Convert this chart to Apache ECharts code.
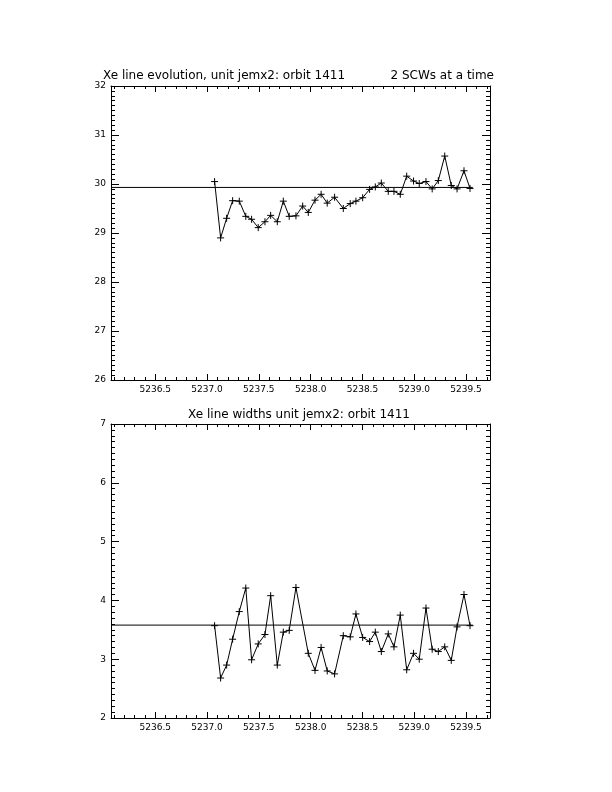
<!DOCTYPE html>
<html>
<head>
<meta charset="utf-8">
<script src="https://cdn.jsdelivr.net/npm/echarts@6/dist/echarts.min.js"></script>
<style>
html,body{margin:0;padding:0;background:#fff;}
#chart{width:612px;height:792px;}
</style>
</head>
<body>
<div id="chart"></div>
<script>
// ---- data ----
const times = [5237.073, 5237.131, 5237.189, 5237.247, 5237.311, 5237.374, 5237.430, 5237.494, 5237.559, 5237.614,
  5237.678, 5237.736, 5237.793, 5237.858, 5237.923, 5237.977, 5238.042, 5238.101, 5238.160, 5238.231,
  5238.315, 5238.382, 5238.437, 5238.502, 5238.569, 5238.624, 5238.682, 5238.749, 5238.804, 5238.865,
  5238.927, 5238.993, 5239.048, 5239.113, 5239.173, 5239.232, 5239.294, 5239.357, 5239.413, 5239.480, 5239.538];
const evolution = [30.05, 28.90, 29.30, 29.66, 29.65, 29.34, 29.28, 29.11, 29.23, 29.36,
  29.23, 29.65, 29.34, 29.35, 29.55, 29.42, 29.67, 29.79, 29.61, 29.73,
  29.50, 29.60, 29.65, 29.72, 29.89, 29.94, 30.02, 29.85, 29.85, 29.79,
  30.16, 30.06, 30.01, 30.05, 29.90, 30.07, 30.57, 29.97, 29.90, 30.27, 29.91];
// null: no width point in that bin
const widths = [3.57, 2.68, 2.90, 3.34, 3.81, 4.21, 2.99, 3.26, 3.42, 4.08,
  2.90, 3.46, 3.49, 4.22, null, 3.10, 2.81, 3.20, 2.80, 2.75,
  3.40, 3.38, 3.77, 3.37, 3.30, 3.46, 3.13, 3.43, 3.21, 3.75,
  2.82, 3.10, 3.00, 3.87, 3.17, 3.13, 3.21, 2.98, 3.55, 4.10, 3.57];
const evolutionRef = 29.93;
const widthsRef = 3.58;
const xRange = [5236.073, 5239.731];
const refLineEnd = 5239.565;
const xMajorTicks = [5236.5, 5237.0, 5237.5, 5238.0, 5238.5, 5239.0, 5239.5];
const xMinorTicks = [5236.1, 5236.2, 5236.3, 5236.4, 5236.5, 5236.6, 5236.7, 5236.8, 5236.9, 5237.0,
  5237.1, 5237.2, 5237.3, 5237.4, 5237.5, 5237.6, 5237.7, 5237.8, 5237.9, 5238.0,
  5238.1, 5238.2, 5238.3, 5238.4, 5238.5, 5238.6, 5238.7, 5238.8, 5238.9, 5239.0,
  5239.1, 5239.2, 5239.3, 5239.4, 5239.5, 5239.6, 5239.7];
const evoYRange = [26, 32];
const widthYRange = [2, 7];
const titleTopLeft = 'Xe line evolution, unit jemx2: orbit 1411';
const titleTopRight = '2 SCWs at a time';
const titleBottom = 'Xe line widths unit jemx2: orbit 1411';

// ---- chart ----
const FONT = 'DejaVu Sans';
const BLACK = '#000';
const chart = echarts.init(document.getElementById('chart'), null, {renderer: 'canvas'});

function xAxes(gridIndex) {
  const base = {type: 'value', gridIndex, min: xRange[0], max: xRange[1], splitLine: {show: false}, scale: true};
  return [
    Object.assign({}, base, {position: 'bottom',
      axisLine: {show: true, onZero: false, lineStyle: {color: BLACK, width: 1}},
      axisTick: {show: true, inside: true, length: 6, customValues: xMajorTicks, lineStyle: {color: BLACK, width: 1}},
      axisLabel: {show: true, customValues: xMajorTicks, margin: 5, color: BLACK, fontFamily: FONT, fontSize: 9,
        formatter: v => v.toFixed(1)}}),
    Object.assign({}, base, {position: 'bottom',
      axisLine: {show: false, onZero: false},
      axisTick: {show: true, inside: true, length: 3, customValues: xMinorTicks, lineStyle: {color: BLACK, width: 1}},
      axisLabel: {show: false}}),
    Object.assign({}, base, {position: 'top',
      axisLine: {show: true, onZero: false, lineStyle: {color: BLACK, width: 1}},
      axisTick: {show: true, inside: true, length: 6, customValues: xMajorTicks, lineStyle: {color: BLACK, width: 1}},
      axisLabel: {show: false}}),
    Object.assign({}, base, {position: 'top',
      axisLine: {show: false, onZero: false},
      axisTick: {show: true, inside: true, length: 3, customValues: xMinorTicks, lineStyle: {color: BLACK, width: 1}},
      axisLabel: {show: false}})
  ];
}
function yAxes(gridIndex, range) {
  const base = {type: 'value', gridIndex, min: range[0], max: range[1], interval: 1, splitLine: {show: false},
    axisLine: {show: true, onZero: false, lineStyle: {color: BLACK, width: 1}},
    axisTick: {show: true, inside: true, length: 8, lineStyle: {color: BLACK, width: 1}},
    minorTick: {show: true, splitNumber: 10, length: 4, lineStyle: {color: BLACK, width: 1}}};
  return [
    Object.assign({}, base, {position: 'left',
      axisLabel: {show: true, margin: 5, color: BLACK, fontFamily: FONT, fontSize: 9}}),
    Object.assign({}, base, {position: 'right', axisLabel: {show: false}})
  ];
}

const plusSymbol = 'path://M5,0L5,10M0,5L10,5';
function dataSeries(xi, yi, values) {
  return {
    type: 'line', xAxisIndex: xi, yAxisIndex: yi,
    data: times.map((t, i) => [t, values[i]]),
    connectNulls: true,
    symbol: plusSymbol, symbolSize: 7, showAllSymbol: true,
    itemStyle: {color: BLACK, borderColor: BLACK, borderWidth: 1},
    lineStyle: {color: BLACK, width: 1},
    emphasis: {disabled: true}, silent: true, animation: false
  };
}
function refSeries(xi, yi, ref) {
  return {
    type: 'line', xAxisIndex: xi, yAxisIndex: yi,
    data: [[xRange[0], ref], [refLineEnd, ref]],
    showSymbol: false, symbol: 'none',
    lineStyle: {color: BLACK, width: 1},
    emphasis: {disabled: true}, silent: true, animation: false
  };
}

const option = {
  backgroundColor: '#fff',
  animation: false,
  grid: [
    {left: 111, top: 86, width: 379, height: 294, containLabel: false, outerBoundsMode: 'none'},
    {left: 111, top: 424, width: 379, height: 294, containLabel: false, outerBoundsMode: 'none'}
  ],
  xAxis: xAxes(0).concat(xAxes(1)),
  yAxis: yAxes(0, evoYRange).concat(yAxes(1, widthYRange)),
  series: [
    refSeries(0, 0, evolutionRef),
    dataSeries(0, 0, evolution),
    refSeries(4, 2, widthsRef),
    dataSeries(4, 2, widths)
  ],
  graphic: [
    {type: 'text', x: 103, y: 76, silent: true,
      style: {text: titleTopLeft, font: '12px "DejaVu Sans"', fill: BLACK, align: 'left', verticalAlign: 'middle'}},
    {type: 'text', x: 494, y: 76, silent: true,
      style: {text: titleTopRight, font: '12px "DejaVu Sans"', fill: BLACK, align: 'right', verticalAlign: 'middle'}},
    {type: 'text', x: 299, y: 415, silent: true,
      style: {text: titleBottom, font: '12px "DejaVu Sans"', fill: BLACK, align: 'center', verticalAlign: 'middle'}}
  ]
};
chart.setOption(option);
</script>
</body>
</html>
